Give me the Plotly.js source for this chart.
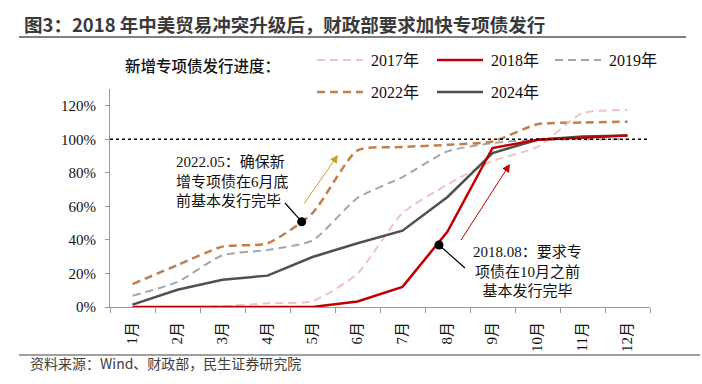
<!DOCTYPE html>
<html>
<head>
<meta charset="utf-8">
<script src="https://cdn.plot.ly/plotly-3.0.1.min.js"></script>
<style>html,body{margin:0;padding:0;background:#fff;}#chart{width:702px;height:384px;}</style>
</head>
<body>
<div id="chart"></div>
<script>
// ---- data ----
var months = ['1月','2月','3月','4月','5月','6月','7月','8月','9月','10月','11月','12月'];
var seriesNames = ['2017年','2018年','2019年','2022年','2024年'];
var y2017 = [0, 0, 0.5, 2.2, 3.5, 20, 56, 73, 87, 95.5, 115.5, 117.5];
var y2018 = [0, 0, 0, 0, 0, 3.3, 12, 45, 94.8, 99.7, 101, 102.3];
var y2019 = [6.7, 15, 30.8, 34, 39.7, 65, 77.5, 92.8, 97.8, 99.7, 100, 100];
var y2022 = [13.7, 25, 36, 38, 56, 93.4, 95.4, 96.7, 98.7, 109, 110, 110.5];
var y2024 = [1.4, 10.3, 16.3, 18.7, 29.8, 38, 45.5, 65.6, 91.8, 99.7, 101.7, 102.3];
var yTicks = [0, 20, 40, 60, 80, 100, 120];
var yTickLabels = ['0%','20%','40%','60%','80%','100%','120%'];
var refLevel = 100;

var serif = 'Liberation Serif, Noto Sans CJK SC, serif';
var sans = 'Noto Sans CJK SC, sans-serif';

var styles = [
  {color:'#f0c3c3', width:2, dash:'8px,5px', shape:'spline'},
  {color:'#c00000', width:2.5, dash:'solid', shape:'linear'},
  {color:'#a6a6a6', width:2, dash:'8px,5px', shape:'spline'},
  {color:'#c27f4c', width:2.5, dash:'8px,5px', shape:'spline'},
  {color:'#505050', width:2.5, dash:'solid', shape:'linear'}
];
var allY = [y2017, y2018, y2019, y2022, y2024];
var drawOrder = [2, 3, 0, 4, 1];

var traces = drawOrder.map(function(i){
  return {
    x: months, y: allY[i], name: seriesNames[i], type: 'scatter', mode: 'lines',
    line: {color: styles[i].color, width: styles[i].width, dash: styles[i].dash, shape: styles[i].shape, smoothing: 0.6},
    showlegend: false, hoverinfo: 'skip'
  };
});

// plot area: left 110, right 650, top 89, bottom 307
var L = 110, R = 650, T = 89, B = 307;
function PX(px){ return (px - L) / (R - L); }
function PY(py){ return (B - py) / (B - T); }
// data coords from pixel (for annotations)
function DX(px){ return (px - L) / 45 - 0.5; }
function DY(py){ return (B - py) / ((B - T) / 130); }

var shapes = [];
var annotations = [];

// reference 100% line
shapes.push({type:'line', xref:'x', yref:'y', x0:-0.5, x1:11.65, y0:refLevel, y1:refLevel,
  line:{color:'#000', width:1.5, dash:'dot'}});

// header rule and footer rule
shapes.push({type:'line', xref:'paper', yref:'paper', x0:PX(19), x1:PX(686), y0:PY(37), y1:PY(37), line:{color:'#808080', width:2}});
shapes.push({type:'line', xref:'paper', yref:'paper', x0:PX(19), x1:PX(700), y0:PY(355), y1:PY(355), line:{color:'#808080', width:1.5}});

// title
annotations.push({xref:'paper', yref:'paper', x:PX(22), y:PY(24), xanchor:'left', yanchor:'middle', showarrow:false,
  text:'图3：2018 年中美贸易冲突升级后，财政部要求加快专项债发行', font:{family:sans, size:18.5, color:'#3a3a3a', weight:'bold'}});
// source
annotations.push({xref:'paper', yref:'paper', x:PX(28), y:PY(363), xanchor:'left', yanchor:'middle', showarrow:false,
  text:'资料来源：Wind、财政部，民生证券研究院', font:{family:sans, size:14, color:'#404040'}});

// custom legend
annotations.push({xref:'paper', yref:'paper', x:PX(123), y:PY(65), xanchor:'left', yanchor:'middle', showarrow:false,
  text:'新增专项债发行进度：', font:{family:sans, size:15.5, color:'#111', weight:500}});
var legPos = [[317,60],[437,60],[555,60],[317,92],[437,92]];
seriesNames.forEach(function(nm, i){
  var p = legPos[i];
  shapes.push({type:'line', xref:'paper', yref:'paper', x0:PX(p[0]), x1:PX(p[0]+46), y0:PY(p[1]), y1:PY(p[1]),
    line:{color:styles[i].color, width:styles[i].width, dash:styles[i].dash}});
  annotations.push({xref:'paper', yref:'paper', x:PX(p[0]+52), y:PY(p[1]), xanchor:'left', yanchor:'middle', showarrow:false,
    text:nm, font:{family:serif, size:16, color:'#111'}});
});

// callout dots
function dot(px, py){
  shapes.push({type:'circle', xref:'x', yref:'y', xsizemode:'pixel', ysizemode:'pixel',
    xanchor:DX(px), yanchor:DY(py), x0:-4.5, x1:4.5, y0:-4.5, y1:4.5,
    fillcolor:'#000', line:{color:'#000', width:0}});
}
dot(301.7, 221.7);
dot(439, 245);
// connector lines
shapes.push({type:'line', xref:'x', yref:'y', x0:DX(285), y0:DY(203), x1:DX(301.7), y1:DY(221.7), line:{color:'#000', width:1.2}});
shapes.push({type:'line', xref:'x', yref:'y', x0:DX(439), y0:DY(245), x1:DX(465), y1:DY(268), line:{color:'#000', width:1.2}});

// arrows
annotations.push({xref:'x', yref:'y', axref:'x', ayref:'y', x:DX(338), y:DY(155), ax:DX(303), ay:DY(205),
  showarrow:true, arrowhead:2, arrowsize:1.6, arrowwidth:1, arrowcolor:'#c8a020', text:''});
annotations.push({xref:'x', yref:'y', axref:'x', ayref:'y', x:DX(510), y:DY(164), ax:DX(460), ay:DY(241.7),
  showarrow:true, arrowhead:2, arrowsize:1.6, arrowwidth:1, arrowcolor:'#c00000', text:''});

// callout texts
annotations.push({xref:'x', yref:'y', x:DX(174), y:DY(181.5), xanchor:'left', yanchor:'middle', align:'left', showarrow:false,
  text:'2022.05：确保新<br>增专项债在6月底<br>前基本发行完毕', font:{family:serif, size:15, color:'#111'}});
annotations.push({xref:'x', yref:'y', x:DX(527), y:DY(271), xanchor:'center', yanchor:'middle', align:'center', showarrow:false,
  text:'2018.08：要求专<br>项债在10月之前<br>基本发行完毕', font:{family:serif, size:15, color:'#111'}});

var layout = {
  width: 702, height: 384,
  margin: {l: L, r: 702 - R, t: T, b: 384 - B, pad: 0},
  paper_bgcolor: '#fff', plot_bgcolor: '#fff',
  showlegend: false,
  xaxis: {
    type: 'category', range: [-0.5, 11.5], tickson: 'boundaries',
    ticks: 'outside', ticklen: 5, tickcolor: '#999', tickwidth: 1,
    showline: true, linecolor: '#999', linewidth: 1, showgrid: false, zeroline: false,
    tickangle: -90, tickfont: {family: serif, size: 15, color: '#111'}, ticklabelstandoff: 8,
    fixedrange: true
  },
  yaxis: {
    range: [0, 130], tickvals: yTicks, ticktext: yTickLabels,
    ticks: 'outside', ticklen: 4, tickcolor: '#999', tickwidth: 1,
    showline: true, linecolor: '#999', linewidth: 1, showgrid: false, zeroline: false,
    tickfont: {family: serif, size: 15, color: '#111'}, ticklabelstandoff: 6,
    fixedrange: true
  },
  shapes: shapes,
  annotations: annotations
};

Plotly.newPlot('chart', traces, layout, {displayModeBar: false, staticPlot: true});
</script>
</body>
</html>
